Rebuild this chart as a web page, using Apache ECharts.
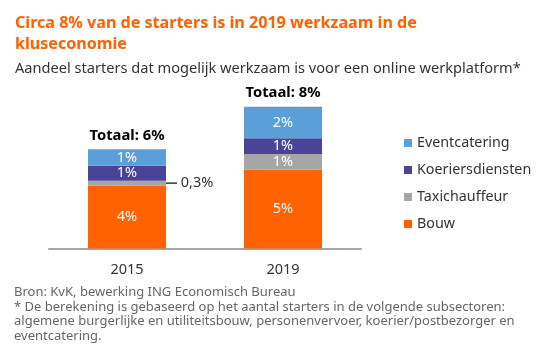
<!DOCTYPE html>
<html><head><meta charset="utf-8">
<script src="https://cdn.jsdelivr.net/npm/echarts@6/dist/echarts.min.js"></script>
<style>html,body{margin:0;padding:0;background:#fff}#c{width:541px;height:364px}</style>
</head><body><div id="c"></div>
<script>
const categories = ['2015', '2019'];
const bouw = [4.0, 5.0];
const taxichauffeur = [0.3, 1.0];
const koeriersdiensten = [0.95, 1.0];
const eventcatering = [1.05, 2.0];
const totals = ['6%', '8%'];
const seriesNames = ['Eventcatering', 'Koeriersdiensten', 'Taxichauffeur', 'Bouw'];
const FONT = 'Noto Sans';

const chart = echarts.init(document.getElementById('c'));
const inLabel = {
  show: true, position: 'inside', color: '#fff', fontSize: 14.5, fontFamily: FONT,
  formatter: p => p.value >= 0.5 ? Math.round(p.value) + '%' : ''
};
function mk(name, data, color) {
  return { name, type: 'bar', stack: 's', data, barWidth: '50%', itemStyle: { color }, label: inLabel, emphasis: { disabled: true } };
}
const taxiData = taxichauffeur.map(v => v < 0.5 ? {
  value: v,
  label: {
    show: true, position: 'right', distance: 0, color: '#333', fontSize: 14.5, fontFamily: FONT,
    formatter: p => '{ln|}' + ' ' + String(p.value).replace('.', ',') + '%', rich: { ln: { width: 11, height: 1.5, backgroundColor: '#333' } }
  }
} : v);
chart.setOption({
  animation: false,
  textStyle: { fontFamily: FONT },
  title: [
    { text: 'Circa 8% van de starters is in 2019 werkzaam in de\nkluseconomie', left: 10, top: 8,
      textStyle: { color: '#FF6200', fontSize: 16.1, fontWeight: 'bold', fontFamily: FONT, lineHeight: 21 } },
    { text: 'Aandeel starters dat mogelijk werkzaam is voor een online werkplatform*', left: 10, top: 56,
      textStyle: { color: '#333', fontSize: 14.6, fontWeight: 'normal', fontFamily: FONT } },
    { text: 'Bron: KvK, bewerking ING Economisch Bureau\n* De berekening is gebaseerd op het aantal starters in de volgende subsectoren:\nalgemene burgerlijke en utiliteitsbouw, personenvervoer, koerier/postbezorger en\neventcatering.',
      left: 9, top: 280, textStyle: { color: '#666', fontSize: 13, fontWeight: 'normal', fontFamily: FONT, lineHeight: 14.7 } }
  ],
  legend: {
    data: seriesNames, orient: 'vertical', left: 399, top: 131, itemGap: 13, itemWidth: 8, itemHeight: 8,
    icon: 'rect', textStyle: { fontSize: 14.3, color: '#333', fontFamily: FONT }
  },
  grid: { left: 49, right: 180, top: 91, bottom: 115.5 },
  xAxis: { type: 'category', data: categories,
    axisLine: { lineStyle: { color: '#A6A6A6', width: 2 } }, axisTick: { show: false },
    axisLabel: { color: '#333', fontSize: 14.5, margin: 14, fontFamily: FONT } },
  yAxis: { type: 'value', min: 0, max: 10, show: false, splitLine: { show: false } },
  series: [
    mk('Bouw', bouw, '#FF6200'),
    mk('Taxichauffeur', taxiData, '#A6A6A6'),
    mk('Koeriersdiensten', koeriersdiensten, '#4B4398'),
    mk('Eventcatering', eventcatering, '#5A9FD8'),
    { name: 'Totaal', type: 'bar', stack: 's', data: categories.map(() => 0), barWidth: '50%',
      itemStyle: { color: 'transparent' },
      label: { show: true, position: 'top', distance: 6, color: '#000', fontSize: 14.8, fontWeight: 'bold', fontFamily: FONT,
        formatter: p => 'Totaal: ' + totals[p.dataIndex] } }
  ]
});
</script></body></html>
